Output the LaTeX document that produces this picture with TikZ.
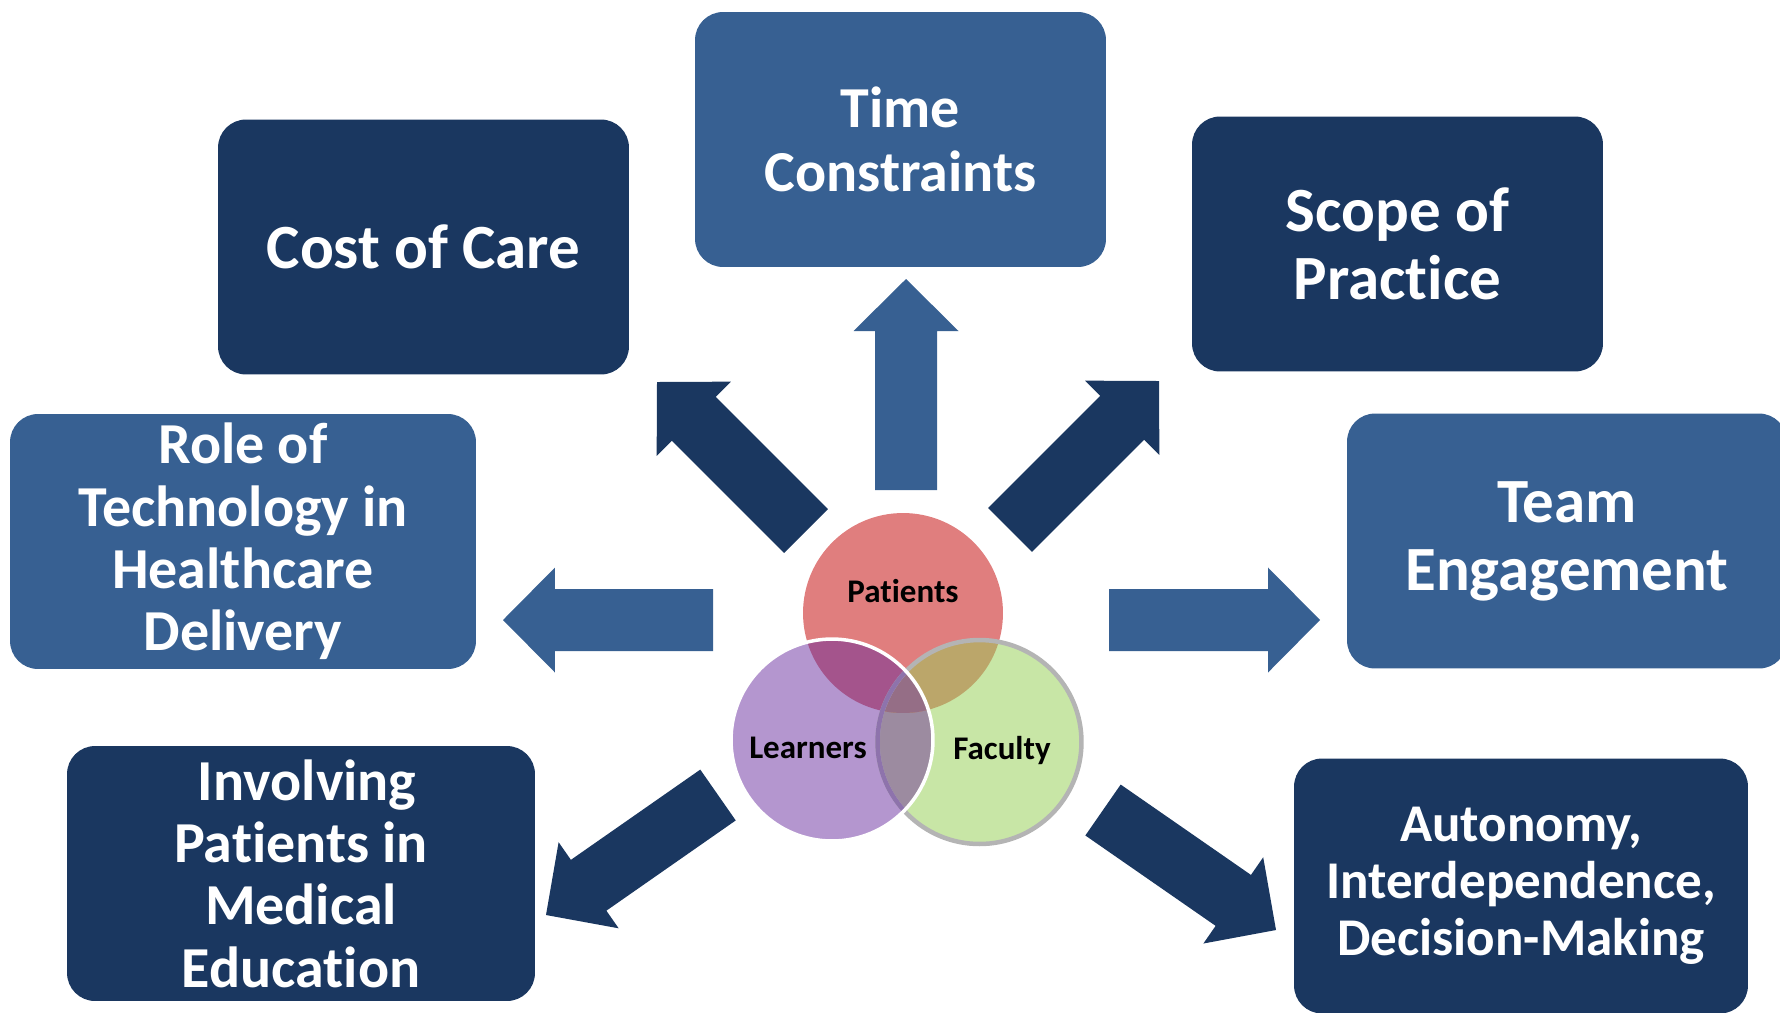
\documentclass[tikz,border=0pt]{standalone}
\usepackage{fontspec}
\setmainfont{Carlito}[Ligatures={NoCommon,NoContextual}, Contextuals=NoAlternate]
\usepackage{tikz}
\usetikzlibrary{calc, positioning}

\definecolor{navy}{HTML}{1A3760}
\definecolor{steel}{HTML}{376092}
\definecolor{patientred}{HTML}{E07E7E}
\definecolor{learnerlilac}{HTML}{B496CF}
\definecolor{facultygreen}{HTML}{C8E6A6}
\definecolor{plmix}{HTML}{A4548C}
\definecolor{pfmix}{HTML}{BBA66A}
\definecolor{lfmix}{HTML}{9C8BA0}
\definecolor{allmix}{HTML}{956E86}
\definecolor{ringgray}{HTML}{B4B4B4}
\definecolor{ringlilac}{HTML}{8E73AC}

\tikzset{
factor/.style={rounded corners=0.56cm, text=white, align=center, inner sep=0pt,
  minimum height=5.1cm, font=\bfseries\fontsize{33}{35.5}\selectfont}, % the outer boxes
big/.style={font=\bfseries\fontsize{35.85}{38.7}\selectfont},
venn/.style={circle, inner sep=0pt, outer sep=0pt},
vennlabel/.style={anchor=base, inner sep=0pt, font=\bfseries\fontsize{18.8}{22}\selectfont},
}

% fat arrow from #2 to #3, filled with #1
\newcommand{\blockarrow}[3]{%
  \coordinate (#3-base) at ($(#3)!1.04cm!(#2)$);
  \fill[#1] ($(#2)!0.62cm!90:(#3)$) -- ($(#3-base)!0.62cm!90:(#3)$)
    -- ($(#3-base)!1.05cm!90:(#3)$) -- (#3)
    -- ($(#3-base)!1.05cm!-90:(#3)$) -- ($(#3-base)!0.62cm!-90:(#3)$)
    -- ($(#2)!0.62cm!-90:(#3)$) -- cycle;
}

\begin{document}
\begin{tikzpicture}[x=0.02cm, y=-0.02cm]
  \useasboundingbox (0,0) rectangle (1780,1012);
  \clip (0,0) rectangle (1780,1012);

  \node[factor, fill=navy, big, minimum width=8.22cm] (cost) at (423.5,247) {Cost of Care};
  \node[factor, fill=steel, minimum width=8.22cm, font=\bfseries\fontsize{33}{36.2}\selectfont]
    (time) at (900.5,139.5) {Time\\Constraints};
  \node[factor, fill=navy, big, minimum width=8.22cm] (scope) at (1397.5,244) {Scope of\\Practice};
  \node[factor, fill=steel, minimum width=9.32cm] (tech) at (243,541.5)
    {Role of\\Technology in\\Healthcare\\Delivery};
  \node[factor, fill=steel, big, minimum width=8.8cm] (team) at (1567,541) {Team\\Engagement};
  \node[factor, fill=navy, minimum width=9.36cm] (involve) at (301,873.5)
    {\hspace{0.24cm}Involving\\Patients in\\Medical\\Education};
  \node[factor, fill=navy, minimum width=9.08cm, font=\bfseries\fontsize{30.2}{32.4}\selectfont]
    (autonomy) at (1521,886) {Autonomy,\\Interdependence,\\Decision-Making};

  % arrows out of the centre
  \coordinate (fromTime) at (906,490);   \coordinate (toTime) at (906,279);
  \coordinate (fromTech) at (713,620);   \coordinate (toTech) at (503,620);
  \coordinate (fromTeam) at (1109,620);  \coordinate (toTeam) at (1320,620);
  \coordinate (fromCost) at (806,531);   \coordinate (toCost) at (657,382);
  \coordinate (fromScope) at (1010,530); \coordinate (toScope) at (1159,381);
  \coordinate (fromInvolve) at (718,795);\coordinate (toInvolve) at (546,915);
  \coordinate (fromAuto) at (1103,810);  \coordinate (toAuto) at (1276,930);
  \blockarrow{steel}{fromTime}{toTime}
  \blockarrow{steel}{fromTech}{toTech}
  \blockarrow{steel}{fromTeam}{toTeam}
  \blockarrow{navy}{fromCost}{toCost}
  \blockarrow{navy}{fromScope}{toScope}
  \blockarrow{navy}{fromInvolve}{toInvolve}
  \blockarrow{navy}{fromAuto}{toAuto}

  % venn
  \node[venn, minimum size=4cm, fill=patientred] (patients) at (903,613) {};
  \node[venn, minimum size=4.08cm, fill=facultygreen] (faculty) at (979.5,742) {};
  \node[venn, minimum size=4.04cm, fill=learnerlilac] (learners) at (832,740) {};
  \begin{scope}
    \clip (learners.center) circle (2.02cm);
    \fill[lfmix] (faculty.center) circle (2.04cm);
  \end{scope}
  \begin{scope}
    \clip (patients.center) circle (2cm);
    \fill[plmix] (learners.center) circle (2.02cm);
    \fill[pfmix] (faculty.center) circle (2.04cm);
    \clip (learners.center) circle (2.02cm);
    \fill[allmix] (faculty.center) circle (2.04cm);
  \end{scope}
  \draw[ringgray, line width=0.09cm] (faculty.center) circle (2.04cm);
  \begin{scope}
    \clip (learners.center) circle (2.02cm);
    \draw[ringlilac, line width=0.09cm] (faculty.center) circle (2.04cm);
  \end{scope}
  \draw[white, line width=0.07cm] (learners.center) circle (2.02cm);

  \node[vennlabel] (patientsText) at (903,602) {Patients};
  \node[vennlabel] (learnersText) at (808,758) {Learners};
  \node[vennlabel] (facultyText) at (1002,759) {Faculty};
\end{tikzpicture}
\end{document}
